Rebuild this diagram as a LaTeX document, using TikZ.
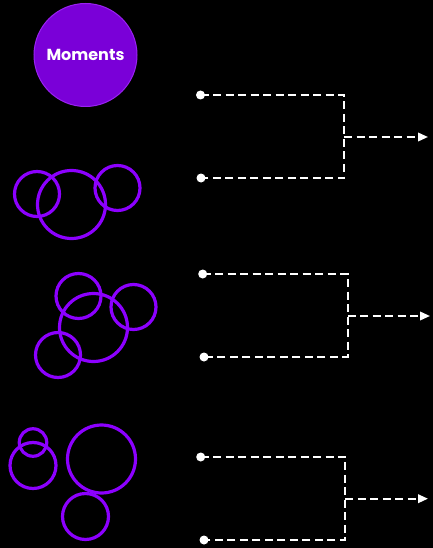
\documentclass[tikz,border=0pt]{standalone}
\usepackage{fontspec}
\newfontfamily\pop{Poppins}
\usetikzlibrary{arrows.meta}
\definecolor{ringc}{HTML}{8C00FF}
\definecolor{fillc}{HTML}{7A00D8}
\definecolor{edgec}{HTML}{9A22F2}
\begin{document}
\begin{tikzpicture}[x=1pt,y=-1pt,
  ring/.style={circle,draw=ringc,line width=3.2pt,inner sep=0pt,minimum size=#1},
  dotnode/.style={circle,fill=white,inner sep=0pt,minimum size=9pt},
  dline/.style={draw=white,line width=2pt,dash pattern=on 8pt off 4.5pt},
  arr/.style={dline,-{Triangle[length=10pt,width=8.5pt]}}]
\fill[black] (0,0) rectangle (433,548);
\useasboundingbox (0,0) rectangle (433,548);
% title
\node[circle,fill=fillc,draw=edgec,line width=1pt,minimum size=103pt,inner sep=0pt,text=white,font=\pop\bfseries\fontsize{16}{18}\selectfont] (title) at (85.5,55) {Moments};
% group 1 rings
\node[ring=45pt] (a1) at (37,194) {};
\node[ring=68pt] (a2) at (71.5,204.5) {};
\node[ring=45pt] (a3) at (117.5,188) {};
% group 2 rings
\node[ring=45pt] (b1) at (78.5,296) {};
\node[ring=68pt] (b2) at (93.5,327.5) {};
\node[ring=45pt] (b3) at (133.5,307) {};
\node[ring=45pt] (b4) at (58,355) {};
% group 3 rings
\node[ring=27.5pt] (c1) at (33,442.5) {};
\node[ring=46pt] (c2) at (33,465.5) {};
\node[ring=68pt] (c3) at (101.5,459) {};
\node[ring=46pt] (c4) at (85.5,516.5) {};
% connector 1
\node[dotnode] (t1) at (200.5,95) {};
\node[dotnode] (u1) at (201,178) {};
\coordinate (k1) at (344,95);
\coordinate (l1) at (344,178);
\coordinate (j1) at (344,137);
\coordinate (e1) at (428,137);
\path[dline] (t1.center) -- (k1) -- (l1) -- (u1.center);
\path[arr] (j1) -- (e1);
% connector 2
\node[dotnode] (t2) at (202.7,274) {};
\node[dotnode] (u2) at (204,357) {};
\coordinate (k2) at (347.5,274);
\coordinate (l2) at (347.5,357);
\coordinate (j2) at (347.5,316);
\coordinate (e2) at (430,316);
\path[dline] (t2.center) -- (k2) -- (l2) -- (u2.center);
\path[arr] (j2) -- (e2);
% connector 3
\node[dotnode] (t3) at (200.7,457) {};
\node[dotnode] (u3) at (204,540) {};
\coordinate (k3) at (345.3,457);
\coordinate (l3) at (345.3,540);
\coordinate (j3) at (345.3,498.7);
\coordinate (e3) at (428,498.7);
\path[dline] (t3.center) -- (k3) -- (l3) -- (u3.center);
\path[arr] (j3) -- (e3);
\end{tikzpicture}
\end{document}
